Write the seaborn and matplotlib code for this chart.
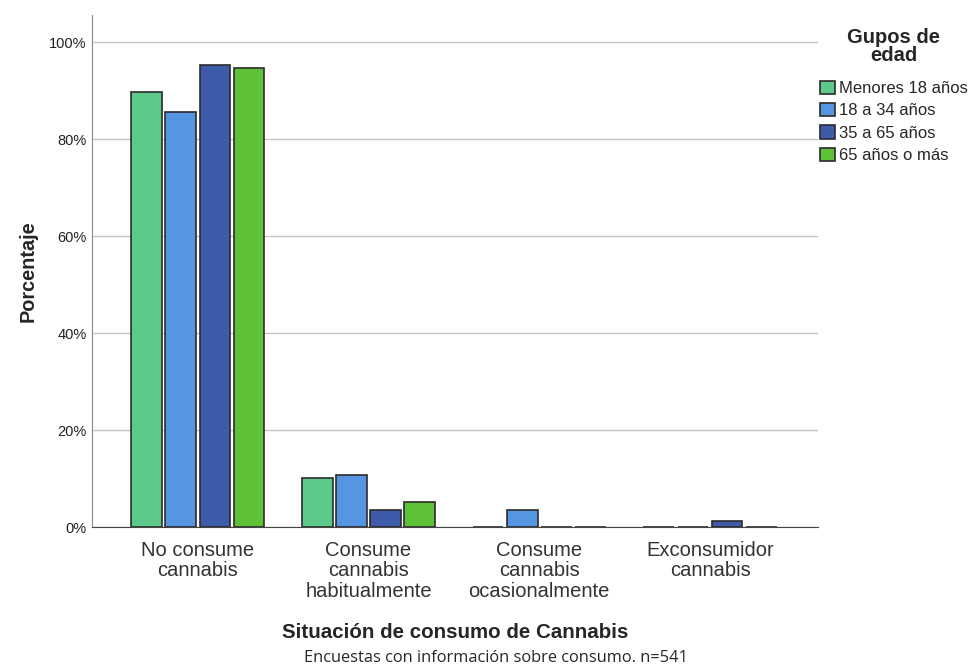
import pandas as pd
import seaborn as sns
import matplotlib
matplotlib.use('Agg')
import matplotlib.pyplot as plt
from matplotlib.ticker import PercentFormatter
from matplotlib.patches import Patch

# Categories on the x axis
situaciones = ['No consume\ncannabis', 'Consume\ncannabis\nhabitualmente',
               'Consume\ncannabis\nocasionalmente', 'Exconsumidor\ncannabis']
grupos = ['Menores 18 años', '18 a 34 años', '35 a 65 años', '65 años o más']

# Percentages per age group
menores_18 = [89.7, 10.2, 0.0, 0.0]
de_18_34 = [85.6, 10.8, 3.6, 0.0]
de_35_65 = [95.3, 3.5, 0.0, 1.2]
mas_65 = [94.6, 5.2, 0.0, 0.0]

colores = ['#5CC98B', '#5596E3', '#3E5BA9', '#5DC236']

rows = []
for grupo, vals in zip(grupos, [menores_18, de_18_34, de_35_65, mas_65]):
    for sit, v in zip(situaciones, vals):
        rows.append({'situacion': sit, 'grupo': grupo, 'pct': v})
df = pd.DataFrame(rows)

sns.set_style('white')
plt.rcParams['font.family'] = ['Liberation Sans', 'DejaVu Sans']

fig = plt.figure(figsize=(9.71, 6.71), dpi=100)
ax = fig.add_axes([0.0947, 0.2146, 0.7473, 0.763])

sns.barplot(data=df, x='situacion', y='pct', hue='grupo', order=situaciones,
            hue_order=grupos, palette=colores, width=0.8, gap=0.1,
            edgecolor='#2b2b2b', linewidth=1.2, saturation=1, ax=ax, legend=False)

ax.set_ylim(0, 105.6)
ax.set_xlim(-0.62, 3.63)
ax.set_yticks([0, 20, 40, 60, 80, 100])
ax.yaxis.set_major_formatter(PercentFormatter(decimals=0))
ax.yaxis.grid(True, color='#c4c4c4', linewidth=1)
ax.set_axisbelow(True)
ax.tick_params(axis='y', labelsize=10.5, length=0, pad=4, colors='#222222')
ax.tick_params(axis='x', labelsize=14.5, length=0, pad=10, colors='#333333')
for lbl in ax.get_xticklabels():
    lbl.set_linespacing(1.1)

for s in ['top', 'right']:
    ax.spines[s].set_visible(False)
ax.spines['left'].set_color('#888888')
ax.spines['bottom'].set_color('#444444')

ax.set_ylabel('Porcentaje', fontsize=14.3, fontweight='bold', labelpad=8)
ax.set_xlabel('Situación de consumo de Cannabis', fontsize=14.8, fontweight='bold', labelpad=16)

handles = [Patch(facecolor=c, edgecolor='#2b2b2b', linewidth=1.2) for c in colores]
leg = fig.legend(handles, grupos, title='Gupos de\nedad', loc='upper left',
                 bbox_to_anchor=(0.838, 0.968), frameon=False, fontsize=12,
                 title_fontproperties={'weight': 'bold', 'size': 14.5},
                 handlelength=0.85, handleheight=0.85, handletextpad=0.25,
                 labelspacing=0.42, borderaxespad=0)
leg._legend_box.align = 'center'
leg._legend_box.sep = 11
leg.get_title().set_multialignment('center')
leg.get_title().set_linespacing(0.95)

fig.text(0.511, 0.02, 'Encuestas con información sobre consumo. n=541',
         ha='center', va='center', fontsize=11.8, family=['Open Sans', 'DejaVu Sans'])

plt.savefig('out.png', dpi=100)
plt.close()
